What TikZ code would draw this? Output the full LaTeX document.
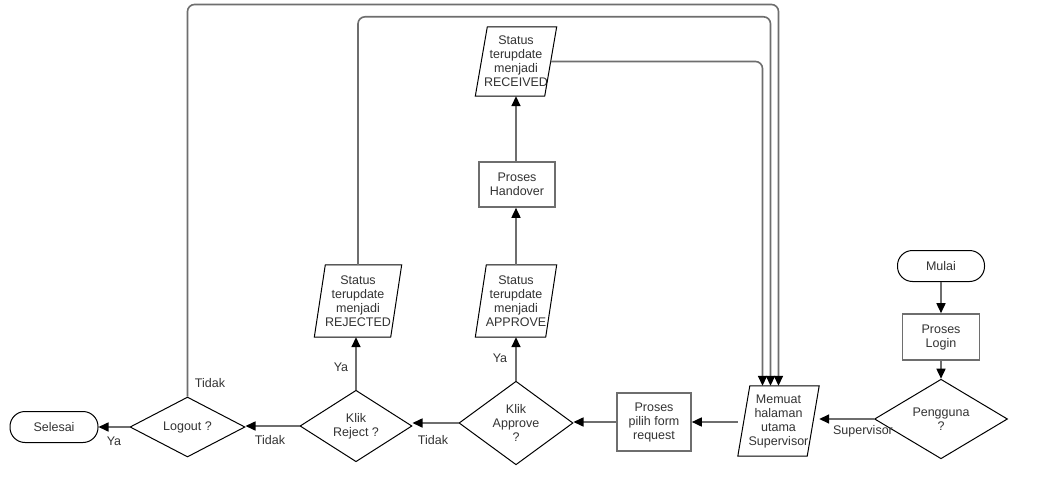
\documentclass[tikz,border=0pt]{standalone}
\usepackage{fontspec}
\setmainfont{Liberation Sans}
\usetikzlibrary{shapes.geometric,arrows.meta,calc}
\definecolor{linegray}{HTML}{6E6E6E}
\definecolor{txtgray}{HTML}{333333}

% parallelogram (input/output) outline around an invisible rectangular node
\newcommand\drawio[2]{%
  \draw[black,line width=1pt]
    ($(#1.north west)+(#2,0)$) -- (#1.north east)
    -- ($(#1.south east)-(#2,0)$) -- (#1.south west) -- cycle;}

\begin{document}
\begin{tikzpicture}[x=1pt,y=-1pt,
  font=\fontsize{12.5}{14}\selectfont,
  every node/.style={inner sep=0pt, align=center, text=txtgray},
  conn/.style={draw=linegray, line width=1.6pt,
    -{Triangle[length=10pt,width=9pt,color=black]}},
  loopline/.style={conn, rounded corners=7pt},
  terminal/.style={draw=black, line width=1pt, rectangle,
    rounded corners=15pt, minimum width=#1, minimum height=31pt},
  procbox/.style={draw=linegray, line width=1.6pt, rectangle},
  decision/.style={draw=black, line width=1pt, diamond},
  iobox/.style={rectangle},
  lbl/.style={font=\fontsize{12.5}{14}\selectfont}
]
\useasboundingbox[fill=white] (0,0) rectangle (1047,503);

% ---- nodes ----
\node[terminal=87pt] (mulai) at (941,266) {Mulai};
\node[procbox, minimum width=77pt, minimum height=46pt] (login) at (941,337) {Proses\\Login};
\node[decision, minimum width=133pt, minimum height=50pt] (pengguna) at (941,419) {Pengguna\\?};
\node[iobox, minimum width=81pt, minimum height=70pt] (memuat) at (778.5,421) {Memuat\\halaman\\utama\\Supervisor};
\node[procbox, minimum width=74pt, minimum height=58pt] (pilih) at (654,422) {Proses\\pilih form\\request};
\node[decision, minimum width=114pt, minimum height=77pt] (approve) at (516,423) {Klik\\Approve\\?};
\node[iobox, minimum width=81pt, minimum height=72pt] (appstat) at (516,301) {Status\\terupdate\\menjadi\\APPROVE};
\node[procbox, minimum width=76pt, minimum height=45pt] (handover) at (517,184.5) {Proses\\Handover};
\node[iobox, minimum width=81pt, minimum height=69pt] (received) at (516,61.5) {Status\\terupdate\\menjadi\\RECEIVED};
\node[decision, minimum width=112pt, minimum height=51pt] (reject) at (356,426) {Klik\\Reject ?};
\node[iobox, minimum width=87pt, minimum height=72pt] (rejstat) at (358,301) {Status\\terupdate\\menjadi\\REJECTED};
\node[decision, minimum width=115pt, minimum height=51pt] (logout) at (187.5,427) {Logout ?};
\node[terminal=88pt] (selesai) at (54,427) {Selesai};

\drawio{memuat}{12}
\drawio{appstat}{11}
\drawio{received}{12}
\drawio{rejstat}{11}

% ---- connectors ----
\draw[conn] (mulai.south) -- (login.north);
\draw[conn] (login.south) -- (pengguna.north);
\draw[conn] (pengguna.west) -- (pengguna.west -| memuat.east);
\draw[conn] (memuat.west |- pilih.east) -- (pilih.east);
\draw[conn] (pilih.west) -- (pilih.west -| approve.east);
\draw[conn] (approve.north) -- (appstat.south);
\draw[conn] (appstat.north) -- (appstat.north |- handover.south);
\draw[conn] (handover.north -| received.south) -- (received.south);
\draw[conn] (approve.west) -- (approve.west -| reject.east);
\draw[conn] (reject.north) -- (reject.north |- rejstat.south);
\draw[conn] (reject.west) -- (reject.west -| logout.east);
\draw[conn] (logout.west) -- (logout.west -| selesai.east);

% return paths back to the supervisor page
\draw[loopline] (logout.north) -- ++(0,-392) -| (memuat.north);
\draw[loopline] (rejstat.north) -- ++(0,-248) -| ([xshift=-8pt]memuat.north);
\draw[loopline] ([xshift=-6pt]received.east) -| ([xshift=-16pt]memuat.north);

% ---- connector labels ----
\node[lbl] (lsup) at (863,431) {Supervisor};
\node[lbl] (lyaapp) at (500,358) {Ya};
\node[lbl] (lyarej) at (341,367) {Ya};
\node[lbl] (ltidakapp) at (433,440) {Tidak};
\node[lbl] (ltidakrej) at (270,440) {Tidak};
\node[lbl] (ltidaklog) at (210,383) {Tidak};
\node[lbl] (lyalog) at (114,441) {Ya};
\end{tikzpicture}
\end{document}
